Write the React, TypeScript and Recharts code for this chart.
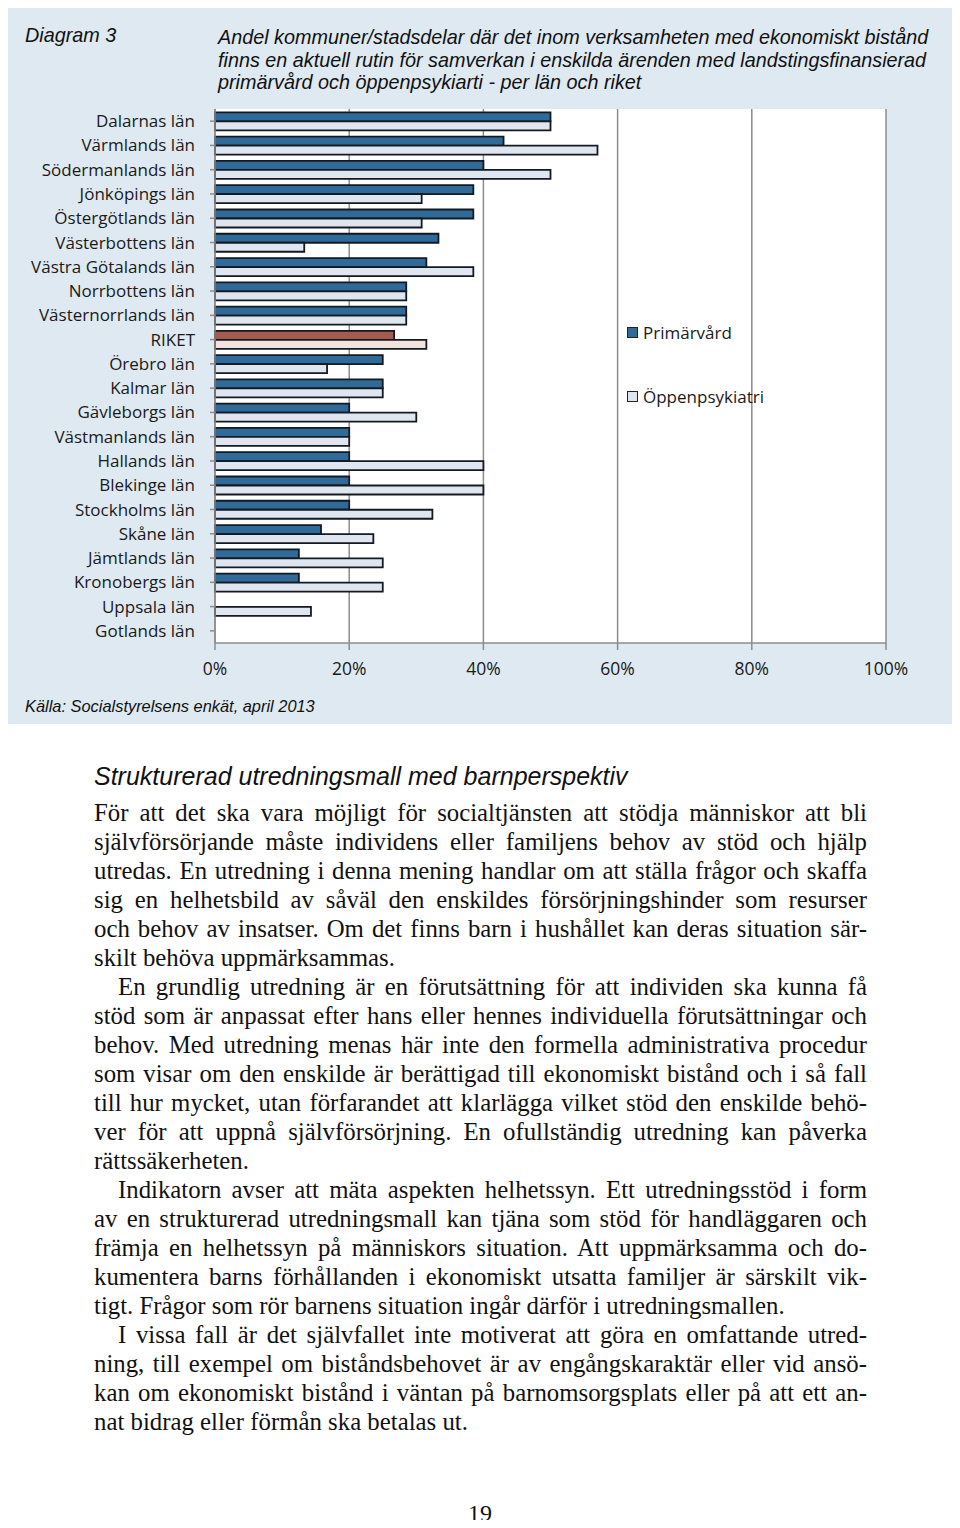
import { BarChart, Bar, XAxis, YAxis, CartesianGrid, Legend, Cell } from 'recharts';

const regions = [
  'Dalarnas län',
  'Värmlands län',
  'Södermanlands län',
  'Jönköpings län',
  'Östergötlands län',
  'Västerbottens län',
  'Västra Götalands län',
  'Norrbottens län',
  'Västernorrlands län',
  'RIKET',
  'Örebro län',
  'Kalmar län',
  'Gävleborgs län',
  'Västmanlands län',
  'Hallands län',
  'Blekinge län',
  'Stockholms län',
  'Skåne län',
  'Jämtlands län',
  'Kronobergs län',
  'Uppsala län',
  'Gotlands län',
];
const primarvard = [50, 43, 40, 38.5, 38.5, 33.3, 31.5, 28.5, 28.5, 26.7, 25, 25, 20, 20, 20, 20, 20, 15.8, 12.5, 12.5, 0, 0];
const oppenpsykiatri = [50, 57, 50, 30.8, 30.8, 13.3, 38.5, 28.5, 28.5, 31.5, 16.7, 25, 30, 20, 40, 40, 32.4, 23.6, 25, 25, 14.3, 0];
const xTicks = [0, 20, 40, 60, 80, 100];

const titleLines = [
  'Andel kommuner/stadsdelar där det inom verksamheten med ekonomiskt bistånd',
  'finns en aktuell rutin för samverkan i enskilda ärenden med landstingsfinansierad',
  'primärvård och öppenpsykiarti - per län och riket',
];

// [text, justify, indent]
const bodyLines: [string, boolean, boolean][] = [
  ['För att det ska vara möjligt för socialtjänsten att stödja människor att bli', true, false],
  ['självförsörjande måste individens eller familjens behov av stöd och hjälp', true, false],
  ['utredas. En utredning i denna mening handlar om att ställa frågor och skaffa', true, false],
  ['sig en helhetsbild av såväl den enskildes försörjningshinder som resurser', true, false],
  ['och behov av insatser. Om det finns barn i hushållet kan deras situation sär-', true, false],
  ['skilt behöva uppmärksammas.', false, false],
  ['En grundlig utredning är en förutsättning för att individen ska kunna få', true, true],
  ['stöd som är anpassat efter hans eller hennes individuella förutsättningar och', true, false],
  ['behov. Med utredning menas här inte den formella administrativa procedur', true, false],
  ['som visar om den enskilde är berättigad till ekonomiskt bistånd och i så fall', true, false],
  ['till hur mycket, utan förfarandet att klarlägga vilket stöd den enskilde behö-', true, false],
  ['ver för att uppnå självförsörjning. En ofullständig utredning kan påverka', true, false],
  ['rättssäkerheten.', false, false],
  ['Indikatorn avser att mäta aspekten helhetssyn. Ett utredningsstöd i form', true, true],
  ['av en strukturerad utredningsmall kan tjäna som stöd för handläggaren och', true, false],
  ['främja en helhetssyn på människors situation. Att uppmärksamma och do-', true, false],
  ['kumentera barns förhållanden i ekonomiskt utsatta familjer är särskilt vik-', true, false],
  ['tigt. Frågor som rör barnens situation ingår därför i utredningsmallen.', false, false],
  ['I vissa fall är det självfallet inte motiverat att göra en omfattande utred-', true, true],
  ['ning, till exempel om biståndsbehovet är av engångskaraktär eller vid ansö-', true, false],
  ['kan om ekonomiskt bistånd i väntan på barnomsorgsplats eller på att ett an-', true, false],
  ['nat bidrag eller förmån ska betalas ut.', false, false],
];

const PRIM = '#2f6a99';
const PSYK = '#dfe6ef';
const PRIM_RIKET = '#a35a4f';
const PSYK_RIKET = '#f3e3df';
const LABEL_FONT = '"Open Sans", sans-serif';
const SANS = '"Liberation Sans", Arial, sans-serif';
const SERIF = '"Liberation Serif", "Times New Roman", serif';

const data = regions.map((name, i) => ({ name, prim: primarvard[i], psyk: oppenpsykiatri[i] }));

function LegendBox() {
  const items = [
    { label: 'Primärvård', color: PRIM },
    { label: 'Öppenpsykiatri', color: PSYK },
  ];
  return (
    <div style={{ fontFamily: LABEL_FONT, fontSize: 17, color: '#1a1a1a' }}>
      {items.map((it, i) => (
        <div key={it.label} style={{ display: 'flex', alignItems: 'center', height: 20, marginBottom: i === 0 ? 44 : 0 }}>
          <span style={{ width: 9, height: 9, background: it.color, border: '1.5px solid #222', marginRight: 5 }} />
          {it.label}
        </div>
      ))}
    </div>
  );
}

export default function App() {
  return (
    <div style={{ position: 'relative', width: 944, height: 1512 }}>
      <div style={{ position: 'absolute', left: 0, top: 0, width: 947, height: 716, background: '#dfe9f1' }}>
        <div style={{ position: 'absolute', left: 17, top: 15, fontFamily: SANS, fontStyle: 'italic', fontSize: 19.8, lineHeight: '24px', color: '#111' }}>
          Diagram 3
        </div>
        {titleLines.map((t, i) => (
          <div key={i} style={{ position: 'absolute', left: 210, top: 17 + i * 22.5, fontFamily: SANS, fontStyle: 'italic', fontSize: 19.8, lineHeight: '24px', color: '#111', whiteSpace: 'nowrap' }}>
            {t}
          </div>
        ))}
        <div style={{ position: 'absolute', left: 17, top: 688, fontFamily: SANS, fontStyle: 'italic', fontSize: 16.4, lineHeight: '20px', color: '#111' }}>
          Källa: Socialstyrelsens enkät, april 2013
        </div>
        <div style={{ position: 'absolute', left: 0, top: 0 }}>
          <BarChart
            width={947}
            height={716}
            data={data}
            layout="vertical"
            margin={{ top: 101, right: 69, bottom: 41, left: 0 }}
            barCategoryGap="14%"
            barGap={0}
          >
            <CartesianGrid horizontal={false} stroke="#8c8c8c" strokeWidth={1.5} fill="#ffffff" />
            <XAxis
              type="number"
              domain={[0, 100]}
              ticks={xTicks}
              tickFormatter={(v) => `${v}%`}
              height={40}
              axisLine={{ stroke: '#8c8c8c', strokeWidth: 1.5 }}
              tickLine={{ stroke: '#8c8c8c', strokeWidth: 1.5 }}
              tickSize={7}
              tickMargin={13}
              tick={{ fill: '#1a1a1a', fontSize: 17.5, fontFamily: LABEL_FONT }}
            />
            <YAxis
              type="category"
              dataKey="name"
              width={207}
              interval={0}
              axisLine={{ stroke: '#8c8c8c', strokeWidth: 1.5 }}
              tickLine={{ stroke: '#8c8c8c', strokeWidth: 1.5 }}
              tickSize={5}
              tickMargin={15}
              tick={{ fill: '#1a1a1a', fontSize: 17, fontFamily: LABEL_FONT }}
            />
            <Legend
              layout="vertical"
              align="center"
              verticalAlign="middle"
              content={() => <LegendBox />}
              wrapperStyle={{ left: 619, top: 314, width: 200 }}
            />
            <Bar dataKey="prim" name="Primärvård" fill={PRIM} stroke="#141a22" strokeWidth={1.8} isAnimationActive={false}>
              {data.map((d, i) => (
                <Cell key={i} fill={d.name === 'RIKET' ? PRIM_RIKET : PRIM} />
              ))}
            </Bar>
            <Bar dataKey="psyk" name="Öppenpsykiatri" fill={PSYK} stroke="#141a22" strokeWidth={1.8} isAnimationActive={false}>
              {data.map((d, i) => (
                <Cell key={i} fill={d.name === 'RIKET' ? PSYK_RIKET : PSYK} />
              ))}
            </Bar>
          </BarChart>
        </div>
      </div>

      <div style={{ position: 'absolute', left: 86, top: 754, fontFamily: SANS, fontStyle: 'italic', fontSize: 25, lineHeight: '29px', color: '#111', whiteSpace: 'nowrap' }}>
        Strukturerad utredningsmall med barnperspektiv
      </div>
      {bodyLines.map(([t, justify, indent], i) => (
        <div
          key={i}
          style={{
            position: 'absolute',
            left: indent ? 110 : 86,
            top: 789.5 + i * 29,
            width: indent ? 749 : 773,
            fontFamily: SERIF,
            fontSize: 24.8,
            lineHeight: '29px',
            color: '#111',
            whiteSpace: 'nowrap',
            textAlign: justify ? 'justify' : 'left',
            textAlignLast: justify ? 'justify' : 'left',
          }}
        >
          {t}
        </div>
      ))}
      <div style={{ position: 'absolute', left: 0, width: 944, top: 1494, textAlign: 'center', fontFamily: SERIF, fontSize: 24, lineHeight: '22px', color: '#111' }}>
        19
      </div>
    </div>
  );
}
